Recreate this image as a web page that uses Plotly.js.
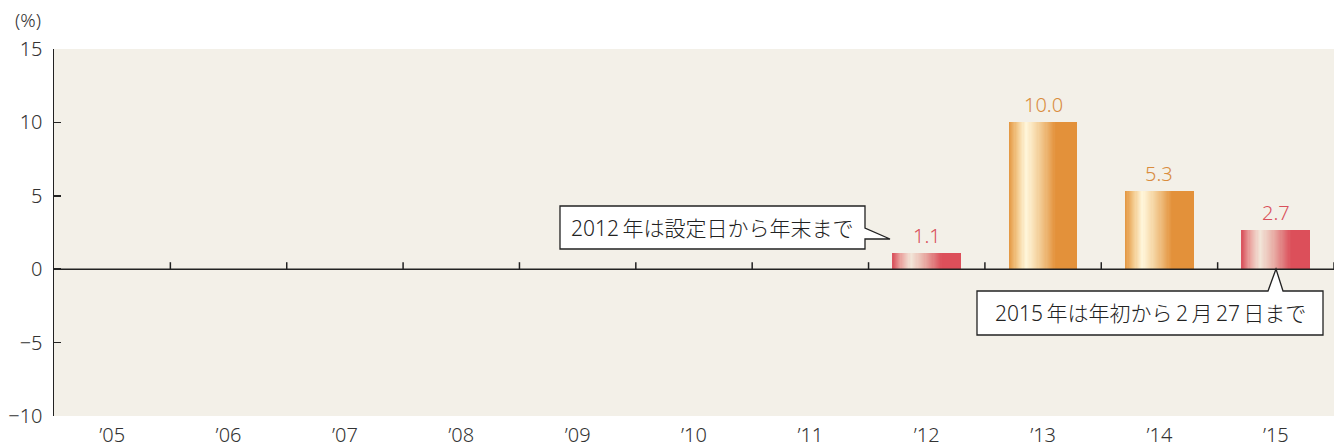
<!DOCTYPE html>
<html><head><meta charset="utf-8">
<script src="https://cdn.plot.ly/plotly-3.0.1.min.js"></script>
<style>html,body{margin:0;padding:0;background:#fff}#c{width:1336px;height:448px}</style>
</head><body><div id="c"></div>
<script>
const years = ["’05","’06","’07","’08","’09","’10","’11","’12","’13","’14","’15"];
const values = [null,null,null,null,null,null,null,1.1,10.0,5.3,2.7];
const partialYear = [false,false,false,false,false,false,false,true,false,false,true];
const valueLabels = ["","","","","","","","1.1","10.0","5.3","2.7"];
const yTicks = [-10,-5,0,5,10,15];
const note2012 = "2012\u2009年は設定日から年末まで";
const note2015 = "2015\u2009年は年初から\u20092\u2009月\u200927\u2009日まで";

const FONT = '"Noto Sans","Noto Sans CJK JP",sans-serif';
const W = 1336, H = 448, ML = 54, MR = 2, MT = 49, MB = 32;
const PW = W - ML - MR, PH = H - MT - MB;

// gradient stops
const orangeStops = [[0,[227,150,63]],[0.12,[243,200,138]],[0.25,[255,247,220]],[0.4,[246,216,168]],[0.55,[236,180,112]],[0.68,[227,145,58]],[1,[227,145,58]]];
const redStops = [[0,[217,80,91]],[0.13,[235,169,164]],[0.27,[242,230,217]],[0.45,[233,179,170]],[0.6,[224,124,126]],[0.72,[220,79,90]],[1,[220,79,90]]];
function grad(stops,t){
  for(let i=1;i<stops.length;i++){
    if(t<=stops[i][0]){
      const a=stops[i-1],b=stops[i];const f=(t-a[0])/(b[0]-a[0]);
      const c=a[1].map((v,j)=>Math.round(v+(b[1][j]-v)*f));
      return `rgb(${c[0]},${c[1]},${c[2]})`;
    }
  }
  const c=stops[stops.length-1][1];return `rgb(${c[0]},${c[1]},${c[2]})`;
}

const BW = 0.59, N = 60, dw = BW/N;
const traces = [];
for(let k=0;k<N;k++){
  const t=(k+0.5)/N;
  traces.push({
    type:'bar', x:years, y:values,
    offset:-BW/2 + k*dw, width:Math.min(dw*2, BW - k*dw),
    marker:{color: partialYear.map(p=>p?grad(redStops,t):grad(orangeStops,t)), line:{width:0}},
    hoverinfo:'skip', showlegend:false
  });
}

const px = x => (x-ML)/PW, py = y => (H-MB-y)/PH;
function pathPx(pts){return 'M'+pts.map(p=>px(p[0]).toFixed(5)+','+py(p[1]).toFixed(5)).join(' L')+' Z';}

const shapes = [
  {type:'line', xref:'paper', yref:'y', x0:0, x1:1, y0:0, y1:0, line:{color:'#222',width:1.5}, layer:'above'}
];
for(let i=0;i<years.length;i++){
  shapes.push({type:'line', xref:'x', yref:'y', ysizemode:'pixel', yanchor:0, x0:i+0.5, x1:i+0.5, y0:0, y1:7, line:{color:'#222',width:1.5}, layer:'above'});
}
shapes.push({type:'path', xref:'paper', yref:'paper', layer:'above',
  path:pathPx([[560,206],[865,206],[865,228],[890,239],[865,239],[865,249],[560,249]]),
  fillcolor:'#fff', line:{color:'#222',width:1.3}});
shapes.push({type:'path', xref:'paper', yref:'paper', layer:'above',
  path:pathPx([[977,291],[1268,291],[1276,269],[1283,291],[1323,291],[1323,335],[977,335]]),
  fillcolor:'#fff', line:{color:'#222',width:1.3}});

const annotations = [
  {xref:'paper', yref:'paper', x:px(28), y:py(20), text:'(%)', showarrow:false, font:{family:FONT,size:19,color:'#333',weight:300}, xanchor:'center', yanchor:'middle'},
  {xref:'paper', yref:'paper', x:px(712), y:py(228), text:note2012, showarrow:false, font:{family:FONT,size:21,color:'#222',weight:300}, xanchor:'center', yanchor:'middle'},
  {xref:'paper', yref:'paper', x:px(1150), y:py(313), text:note2015, showarrow:false, font:{family:FONT,size:21,color:'#222',weight:300}, xanchor:'center', yanchor:'middle'}
];
years.forEach((yr,i)=>{
  if(values[i]===null) return;
  annotations.push({xref:'x', yref:'y', x:yr, y:values[i], text:valueLabels[i], showarrow:false,
    xanchor:'center', yanchor:'bottom', yshift:2,
    font:{family:FONT,size:20,weight:300,color:partialYear[i]?'#D9505B':'#D98C3E'}});
});

const layout = {
  width:W, height:H, margin:{l:ML,r:MR,t:MT,b:MB,pad:0},
  paper_bgcolor:'#fff', plot_bgcolor:'#F3F0E8',
  barmode:'overlay', bargap:0,
  font:{family:FONT,color:'#333'},
  xaxis:{type:'category', categoryorder:'array', categoryarray:years, range:[-0.5,10.5], showline:false, ticks:'', showgrid:false, zeroline:false, tickfont:{family:FONT,size:20,color:'#333',weight:300}, ticklabelstandoff:5, fixedrange:true},
  yaxis:{range:[-10,15], tickvals:yTicks, ticktext:yTicks.map(v=>v<0?'−'+Math.abs(v):String(v)), showline:true, linecolor:'#222', linewidth:1.5, ticks:'inside', ticklen:7, tickcolor:'#222', tickwidth:1.5, showgrid:false, zeroline:false, tickfont:{family:FONT,size:20,color:'#333',weight:300}, ticklabelstandoff:6, fixedrange:true},
  shapes:shapes, annotations:annotations, showlegend:false
};
Plotly.newPlot('c', traces, layout, {displayModeBar:false, staticPlot:true});
</script></body></html>
